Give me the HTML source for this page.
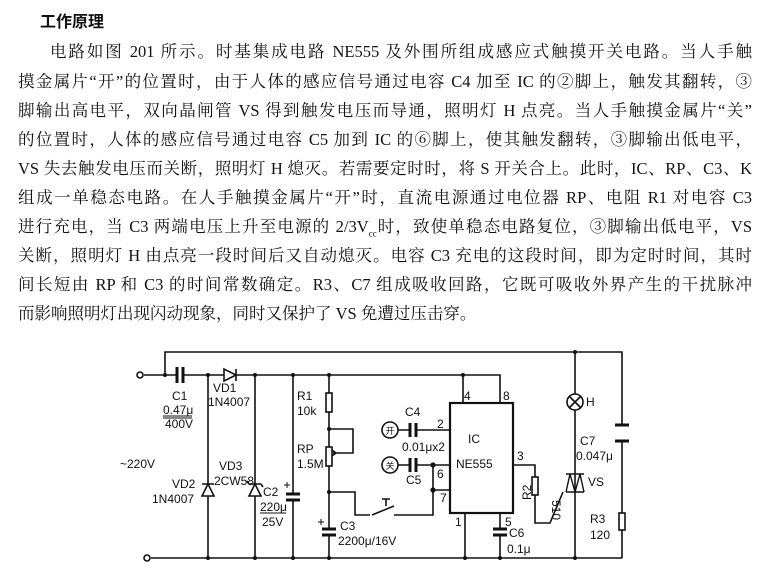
<!DOCTYPE html>
<html><head><meta charset="utf-8"><style>
body{margin:0;background:#fff;width:777px;height:576px;overflow:hidden;position:relative;font-family:"Liberation Serif","Noto Serif CJK SC","Noto Sans CJK SC",serif;color:#111}
.t{position:absolute;left:40px;top:8px;font:bold 16px "Liberation Sans","Noto Sans CJK SC",sans-serif}
.l{position:absolute;left:18px;width:734px;font-size:16.5px;line-height:20px;white-space:nowrap;text-align:justify;text-align-last:justify}
svg{position:absolute;left:0;top:0}
svg text{font-family:"Liberation Sans",sans-serif;font-size:12px;fill:#111}
</style></head><body>
<div class="t">工作原理</div>
<div class="l" style="top:42px;left:50px;width:702px">电路如图 201 所示。时基集成电路 NE555 及外围所组成感应式触摸开关电路。当人手触</div>
<div class="l" style="top:72px">摸金属片“开”的位置时，由于人体的感应信号通过电容 C4 加至 IC 的②脚上，触发其翻转，③</div>
<div class="l" style="top:101px">脚输出高电平，双向晶闸管 VS 得到触发电压而导通，照明灯 H 点亮。当人手触摸金属片“关”</div>
<div class="l" style="top:130px">的位置时，人体的感应信号通过电容 C5 加到 IC 的⑥脚上，使其触发翻转，③脚输出低电平，</div>
<div class="l" style="top:159px">VS 失去触发电压而关断，照明灯 H 熄灭。若需要定时时，将 S 开关合上。此时，IC、RP、C3、K</div>
<div class="l" style="top:188px">组成一单稳态电路。在人手触摸金属片“开”时，直流电源通过电位器 RP、电阻 R1 对电容 C3</div>
<div class="l" style="top:217px">进行充电，当 C3 两端电压上升至电源的 2/3V<sub style="font-size:9px">cc</sub>时，致使单稳态电路复位，③脚输出低电平，VS</div>
<div class="l" style="top:246px">关断，照明灯 H 由点亮一段时间后又自动熄灭。电容 C3 充电的这段时间，即为定时时间，其时</div>
<div class="l" style="top:275px">间长短由 RP 和 C3 的时间常数确定。R3、C7 组成吸收回路，它既可吸收外界产生的干扰脉冲</div>
<div class="l" style="top:304px;width:auto;text-align-last:auto">而影响照明灯出现闪动现象，同时又保护了 VS 免遭过压击穿。</div>
<svg width="777" height="576" viewBox="0 0 777 576" fill="none" stroke="#111" stroke-width="1.6">
<path d="M165 375V352H622V425M622 441V513M622 530V558"/>
<path d="M144 375H176M184 375H224M236 375H500V403M463 375V403"/>
<path d="M151 558H622"/>
<circle cx="140" cy="375" r="3"/><circle cx="147" cy="558" r="3"/>
<path d="M177 367V383M183 367V383" stroke-width="3"/>
<path d="M224 369V381L236 375Z M236 369V381" fill="#fff"/>
<path d="M208 375V558"/><path d="M202 496H214L208 484Z M202 484H214" fill="#fff"/>
<path d="M255 375V558"/><path d="M249 496H261L255 484Z M249 484H261M249 484L247 481M261 484L263 487" fill="#fff"/>
<path d="M293 375V494M293 500V558"/><path d="M286 494H300M286 500H300" stroke-width="3"/>
<path d="M284 485H290M287 482V488" stroke-width="1"/>
<path d="M329 375V393M329 412V447M329 466V529M329 535V558"/>
<rect x="326" y="393" width="6" height="19"/><rect x="326" y="447" width="6" height="19"/>
<path d="M329 429H353V453H333M336 453L332 450M336 453L332 456" />
<path d="M322 529H336M322 535H336" stroke-width="3"/>
<path d="M318 522H324M321 519V525" stroke-width="1"/>
<path d="M329 492H355V515H370M372 515L394 506M386 506V499M382 499H390M394 515H433V465"/>
<circle cx="390" cy="430" r="8"/><circle cx="390" cy="465" r="8"/>
<path d="M398 430H410M416 430H450M398 465H410M416 465H450M433 490H450"/>
<path d="M410 423V437M416 423V437M410 458V472M416 458V472" stroke-width="3"/>
<circle cx="433" cy="465" r="1.8" fill="#111"/><circle cx="433" cy="490" r="1.8" fill="#111"/>
<rect x="450" y="403" width="63" height="110" stroke-width="2.2"/>
<path d="M465 513V558M500 513V529M500 535V558"/>
<path d="M493 529H507M493 535H507" stroke-width="3"/>
<path d="M513 465H535V477M535 495V523H550L563 492"/>
<rect x="532" y="477" width="6" height="18"/>
<path d="M575 352V394M575 410V558"/>
<circle cx="575" cy="402" r="8"/><path d="M569 396L581 408M581 396L569 408"/>
<path d="M566 474H584M566 492H584M566 492L570 474 M570 474L575 492 M575 492L580 474 M580 474L584 492" stroke-width="1.4"/>
<path d="M615 425H629M615 441H629" stroke-width="3"/>
<rect x="619" y="513" width="6" height="17"/>
<g fill="#111" stroke="none">
<circle cx="165" cy="375" r="2"/><circle cx="208" cy="375" r="2"/><circle cx="255" cy="375" r="2"/><circle cx="293" cy="375" r="2"/><circle cx="329" cy="375" r="2"/><circle cx="463" cy="375" r="2"/>
<circle cx="329" cy="429" r="2"/><circle cx="329" cy="492" r="2"/>
<circle cx="208" cy="558" r="2"/><circle cx="255" cy="558" r="2"/><circle cx="293" cy="558" r="2"/><circle cx="329" cy="558" r="2"/><circle cx="465" cy="558" r="2"/><circle cx="500" cy="558" r="2"/><circle cx="575" cy="558" r="2"/><circle cx="575" cy="352" r="2"/>
</g>
<g stroke="none">
<text x="172" y="400">C1</text><text x="163" y="414">0.47μ</text><text x="165" y="428">400V</text>
<text x="213" y="392">VD1</text><text x="208" y="406">1N4007</text>
<text x="120" y="468">~220V</text>
<text x="172" y="488">VD2</text><text x="152" y="503">1N4007</text>
<text x="219" y="470">VD3</text><text x="214" y="485" font-size="11">2CW58</text>
<text x="263" y="496">C2</text><text x="260" y="511">220μ</text><text x="262" y="526">25V</text>
<text x="297" y="400">R1</text><text x="297" y="415">10k</text>
<text x="297" y="453">RP</text><text x="297" y="468">1.5M</text>
<text x="340" y="530">C3</text><text x="338" y="545">2200μ/16V</text>
<text x="405" y="416">C4</text><text x="402" y="451">0.01μx2</text><text x="406" y="484">C5</text>
<text x="390" y="434" text-anchor="middle" style="font-family:'Noto Sans CJK SC',sans-serif;font-size:9px">开</text>
<text x="390" y="469" text-anchor="middle" style="font-family:'Noto Sans CJK SC',sans-serif;font-size:9px">关</text>
<text x="437" y="428">2</text><text x="437" y="478">6</text><text x="440" y="502">7</text>
<text x="464" y="400">4</text><text x="503" y="400">8</text><text x="517" y="460">3</text>
<text x="455" y="526">1</text><text x="505" y="526">5</text>
<text x="468" y="443" font-size="13">IC</text><text x="456" y="468" font-size="13">NE555</text>
<text x="509" y="537">C6</text><text x="507" y="553">0.1μ</text>
<text x="586" y="406">H</text><text x="580" y="445">C7</text><text x="576" y="460">0.047μ</text>
<text x="588" y="486">VS</text><text x="590" y="523">R3</text><text x="590" y="539">120</text>
<text transform="translate(531,500) rotate(-90)">R2</text>
<text transform="translate(552,500) rotate(90)">510</text>
</g>
<path d="M163 416H192M163 418H192M260 513H286" stroke-width="1"/>
</svg>
</body></html>
